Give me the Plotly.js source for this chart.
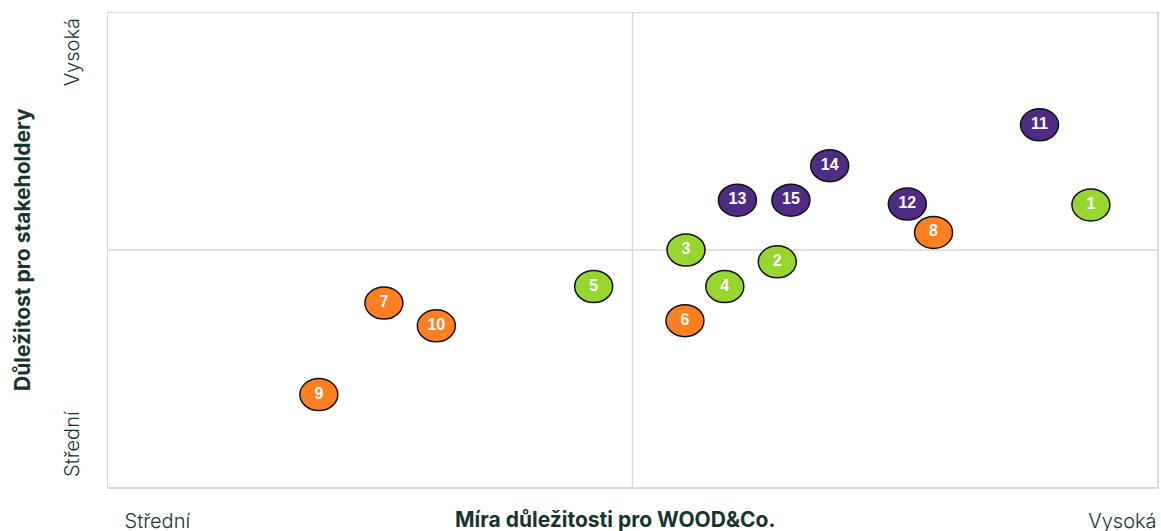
<!DOCTYPE html>
<html>
<head>
<meta charset="utf-8">
<script src="https://cdn.plot.ly/plotly-3.0.1.min.js"></script>
<style>
  html, body { margin: 0; padding: 0; background: #ffffff; }
  #chart { width: 1161px; height: 531px; }
</style>
</head>
<body>
<div id="chart"></div>
<script>
// Materiality topics: importance for the company (x) and for stakeholders (y)
const topicIds = ["1","2","3","4","5","6","7","8","9","10","11","12","13","14","15"];
const companyImportance = [9.37, 6.38, 5.51, 5.88, 4.63, 5.50, 2.63, 7.87, 2.01, 3.13, 8.88, 7.62, 6.00, 6.88, 6.51];
const stakeholderImportance = [5.95, 4.75, 5.00, 4.23, 4.23, 3.51, 3.88, 5.37, 1.95, 3.40, 7.64, 5.97, 6.05, 6.78, 6.05];
const topicGroup = ["env","env","env","env","env","soc","soc","soc","soc","soc","gov","gov","gov","gov","gov"];

const groupColors = { env: "#97d530", soc: "#ff7f21", gov: "#4e2c83" };

// Scale labels
const xTickVals = [0.47, 9.67];
const yTickVals = [0.84, 9.11];
const scaleText = ["Střední", "Vysoká"];

const axisRange = [0, 10];
const midValue = 5;

const textColor = "#17352f";
const gridColor = "#d9d9d9";

// Ellipse bubbles anchored at each topic's data position
const bubbleShapes = topicIds.map((id, i) => ({
  type: "circle",
  layer: "below",
  xref: "x", yref: "y",
  xsizemode: "pixel", ysizemode: "pixel",
  xanchor: companyImportance[i], yanchor: stakeholderImportance[i],
  x0: -19, x1: 19, y0: -16, y1: 16,
  fillcolor: groupColors[topicGroup[i]],
  line: { color: "#111111", width: 1.5 }
}));

// Quadrant dividers
const dividerShapes = [
  { type: "line", layer: "below", xref: "x", yref: "paper", x0: midValue, x1: midValue, y0: 0, y1: 1,
    line: { color: gridColor, width: 1.5 } },
  { type: "line", layer: "below", xref: "paper", yref: "y", x0: 0, x1: 1, y0: midValue, y1: midValue,
    line: { color: gridColor, width: 1.5 } }
];

const labelTrace = {
  type: "scatter",
  mode: "text",
  x: companyImportance,
  y: stakeholderImportance,
  text: topicIds,
  textposition: "middle center",
  textfont: { family: "Liberation Sans, Arial, sans-serif", size: 16, color: "#ffffff", weight: 700 },
  hoverinfo: "skip",
  showlegend: false
};

const tickFont = { family: "Inter, Lato, sans-serif", size: 20, color: textColor, weight: 300 };
const titleFont = { family: "Inter, Lato, sans-serif", size: 21, color: textColor, weight: 700 };

const layout = {
  width: 1161,
  height: 531,
  margin: { l: 108, r: 4, t: 13, b: 44 },
  paper_bgcolor: "#ffffff",
  plot_bgcolor: "#ffffff",
  showlegend: false,
  xaxis: {
    range: axisRange,
    showgrid: false,
    zeroline: false,
    showline: true,
    mirror: true,
    linecolor: gridColor,
    linewidth: 1.5,
    tickmode: "array",
    tickvals: xTickVals,
    ticktext: scaleText,
    ticks: "outside",
    ticklen: 15,
    tickcolor: "rgba(0,0,0,0)",
    tickfont: tickFont,
    fixedrange: true
  },
  yaxis: {
    range: axisRange,
    showgrid: false,
    zeroline: false,
    showline: true,
    mirror: true,
    linecolor: gridColor,
    linewidth: 1.5,
    tickmode: "array",
    tickvals: yTickVals,
    ticktext: scaleText,
    tickangle: -90,
    ticks: "outside",
    ticklen: 20,
    tickcolor: "rgba(0,0,0,0)",
    tickfont: tickFont,
    fixedrange: true
  },
  shapes: dividerShapes.concat(bubbleShapes),
  annotations: [
    { text: "Míra důležitosti pro WOOD&Co.", xref: "paper", yref: "paper",
      x: 0.483, y: 0, yshift: -32, xanchor: "center", yanchor: "middle",
      showarrow: false, font: titleFont },
    { text: "Důležitost pro stakeholdery", xref: "paper", yref: "paper",
      x: 0, y: 0.5, xshift: -86, xanchor: "center", yanchor: "middle",
      textangle: -90, showarrow: false, font: titleFont }
  ]
};

Plotly.newPlot("chart", [labelTrace], layout, { displayModeBar: false, staticPlot: true });
</script>
</body>
</html>
